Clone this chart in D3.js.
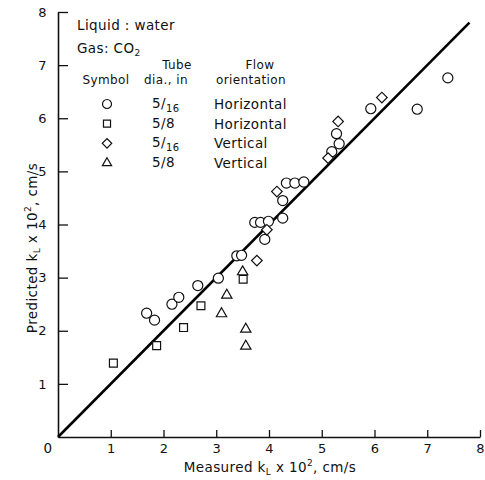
<!doctype html>
<html>
<head>
    <script src="https://cdnjs.cloudflare.com/ajax/libs/d3/7.8.5/d3.min.js"></script>
    <style>
        body { margin: 0; background: #fff; }
        text { font-family: "DejaVu Sans", sans-serif; font-size: 13.5px; fill: #111; letter-spacing: 0.4px; }
        text.head { font-size: 12px; }
    </style>
</head>
<body>
<svg id="chart" width="485" height="480"></svg>
<script>
    // measured vs predicted kL x 10^2 (cm/s)
    circles = [[1.68, 2.33], [1.83, 2.20], [2.16, 2.50], [2.29, 2.63], [2.65, 2.85], [3.04, 2.99],
        [3.39, 3.41], [3.48, 3.42], [3.73, 4.04], [3.84, 4.04], [3.99, 4.06], [3.92, 3.72],
        [4.26, 4.12], [4.26, 4.45], [4.33, 4.78], [4.49, 4.78], [4.66, 4.80], [5.19, 5.37],
        [5.33, 5.52], [5.28, 5.71], [5.93, 6.18], [6.81, 6.17], [7.39, 6.76]]
    squares = [[1.05, 1.39], [1.87, 1.72], [2.38, 2.06], [2.71, 2.47], [3.51, 2.97]]
    diamonds = [[3.77, 3.32], [3.96, 3.90], [4.15, 4.62], [5.12, 5.25], [5.31, 5.94], [6.14, 6.39]]
    triangles = [[3.50, 3.11], [3.20, 2.67], [3.10, 2.32], [3.56, 2.03], [3.56, 1.71]]
    refLine = [[0, 0], [7.8, 7.8]]

    xTicks = [1, 2, 3, 4, 5, 6, 7, 8]
    yTicks = [1, 2, 3, 4, 5, 6, 7, 8]

    legendRows = [
        {shape: "circle", dia: ["5/", "16"], flow: "Horizontal"},
        {shape: "square", dia: ["5/8"], flow: "Horizontal"},
        {shape: "diamond", dia: ["5/", "16"], flow: "Vertical"},
        {shape: "triangle", dia: ["5/8"], flow: "Vertical"}
    ]

    svg = d3.select("#chart")

    x = d3.scaleLinear().domain([0, 8]).range([58, 480])
    y = d3.scaleLinear().domain([0, 8]).range([437, 12])

    function symbolPath(shape, big) {
        var k = big ? 1 : 0.8
        if (shape == "circle") return d3.symbol().type(d3.symbolCircle).size(80 * k)()
        if (shape == "square") return d3.symbol().type(d3.symbolSquare).size(62 * k)()
        if (shape == "diamond") return d3.symbol().type(d3.symbolSquare).size(56 * k)()
        return d3.symbol().type(d3.symbolTriangle).size(46 * k)()
    }

    // axes
    var xAxis = d3.axisBottom(x).tickValues(xTicks).tickSizeInner(-7).tickSizeOuter(0).tickPadding(7)
    var yAxis = d3.axisLeft(y).tickValues(yTicks).tickSizeInner(-10).tickSizeOuter(0).tickPadding(11)

    var gx = svg.append("g").attr("transform", "translate(0," + y(0) + ")").call(xAxis)
    var gy = svg.append("g").attr("transform", "translate(" + x(0) + ",0)").call(yAxis)
    ;[gx, gy].forEach(function (g) {
        g.attr("font-family", null).attr("font-size", null)
        g.selectAll("path.domain").attr("stroke", "#111").attr("stroke-width", 1.6)
        g.selectAll(".tick line").attr("stroke", "#111").attr("stroke-width", 1.3)
        g.selectAll(".tick text").style("font-size", "13px").attr("fill", "#111")
    })

    svg.append("text").attr("x", 48).attr("y", 453).attr("text-anchor", "middle").text("0")

    // diagonal
    svg.append("path")
        .datum(refLine)
        .attr("d", d3.line().x(d => x(d[0])).y(d => y(d[1])))
        .attr("stroke", "#000").attr("stroke-width", 2.6).attr("fill", "none")

    // points
    function drawPoints(data, shape) {
        svg.selectAll("path." + shape)
            .data(data)
            .enter()
            .append("path")
            .attr("class", shape)
            .attr("d", symbolPath(shape, true))
            .attr("transform", d => "translate(" + x(d[0]) + "," + y(d[1]) + ")" + (shape == "diamond" ? " rotate(45)" : ""))
            .attr("fill", "#fff").attr("stroke", "#111").attr("stroke-width", 1.2)
    }
    drawPoints(circles, "circle")
    drawPoints(squares, "square")
    drawPoints(diamonds, "diamond")
    drawPoints(triangles, "triangle")

    // axis titles
    var xt = svg.append("text").attr("x", 270).attr("y", 472).attr("text-anchor", "middle")
    xt.append("tspan").text("Measured  k")
    xt.append("tspan").attr("dy", 3).style("font-size", "9px").text("L")
    xt.append("tspan").attr("dy", -3).text(" x 10")
    xt.append("tspan").attr("dy", -6).style("font-size", "9px").text("2")
    xt.append("tspan").attr("dy", 6).text(",  cm/s")

    var yt = svg.append("text").attr("transform", "translate(37,248) rotate(-90)").attr("text-anchor", "middle")
    yt.append("tspan").text("Predicted  k")
    yt.append("tspan").attr("dy", 3).style("font-size", "9px").text("L")
    yt.append("tspan").attr("dy", -3).text(" x 10")
    yt.append("tspan").attr("dy", -6).style("font-size", "9px").text("2")
    yt.append("tspan").attr("dy", 6).text(",  cm/s")

    // legend
    svg.append("text").attr("x", 77).attr("y", 30).text("Liquid : water")
    var gas = svg.append("text").attr("x", 77).attr("y", 53)
    gas.append("tspan").text("Gas: CO")
    gas.append("tspan").attr("dy", 3).style("font-size", "9px").text("2")

    svg.append("text").attr("class", "head").attr("x", 177).attr("y", 69).attr("text-anchor", "middle").text("Tube")
    svg.append("text").attr("class", "head").attr("x", 166).attr("y", 84).attr("text-anchor", "middle").text("dia., in")
    svg.append("text").attr("class", "head").attr("x", 260).attr("y", 69).attr("text-anchor", "middle").text("Flow")
    svg.append("text").attr("class", "head").attr("x", 251).attr("y", 84).attr("text-anchor", "middle").text("orientation")
    svg.append("text").attr("class", "head").attr("x", 106).attr("y", 84).attr("text-anchor", "middle").text("Symbol")

    var rowY = d3.scalePoint().domain(d3.range(legendRows.length)).range([104, 163])
    var rows = svg.selectAll("g.legrow").data(legendRows).enter().append("g")
        .attr("class", "legrow")
        .attr("transform", (d, i) => "translate(0," + rowY(i) + ")")
    rows.append("path")
        .attr("d", d => symbolPath(d.shape, false))
        .attr("transform", d => "translate(107,0)" + (d.shape == "diamond" ? " rotate(45)" : ""))
        .attr("fill", "#fff").attr("stroke", "#111").attr("stroke-width", 1.2)
    rows.each(function (d) {
        var t = d3.select(this).append("text").attr("x", 152).attr("y", 4)
        t.append("tspan").text(d.dia[0])
        if (d.dia.length > 1) t.append("tspan").attr("dy", 4).style("font-size", "10px").text(d.dia[1])
    })
    rows.append("text").attr("x", 214).attr("y", 5).text(d => d.flow)
</script>
</body>
</html>
